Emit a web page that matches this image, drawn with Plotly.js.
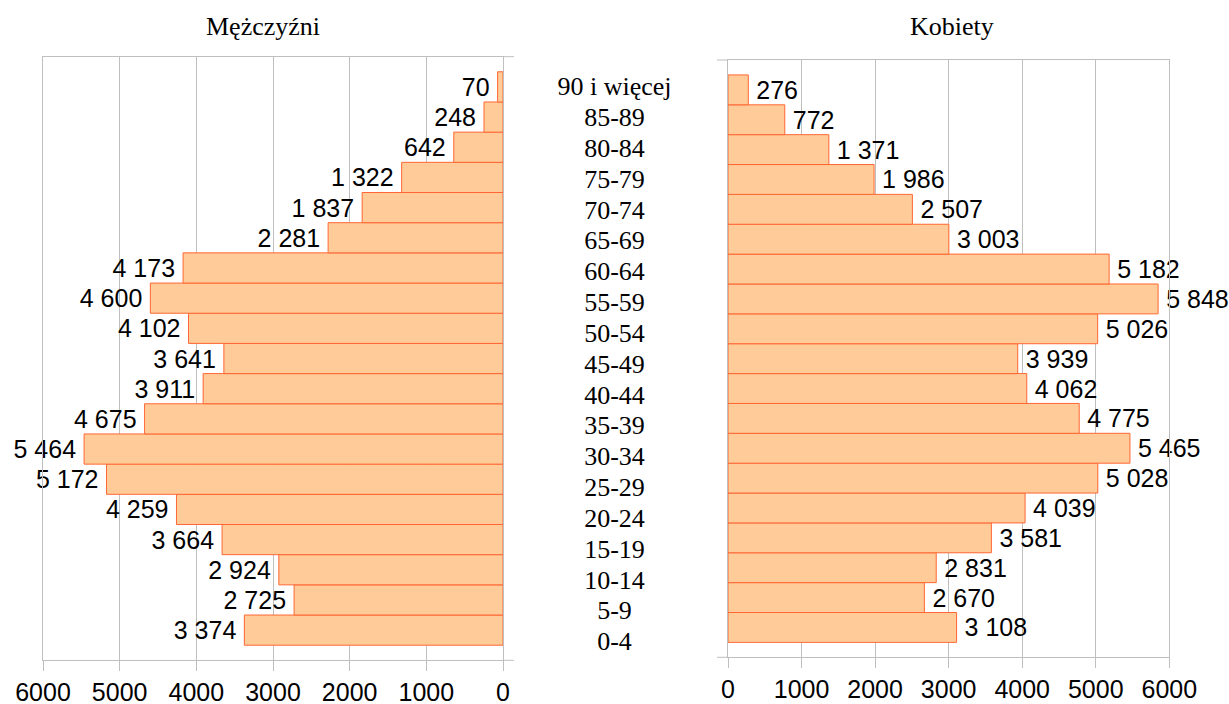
<!DOCTYPE html>
<html>
<head>
<meta charset="utf-8">
<script src="https://cdn.plot.ly/plotly-3.0.1.min.js"></script>
<style>html,body{margin:0;padding:0;background:#fff;}#chart{width:1229px;height:704px;}</style>
</head>
<body>
<div id="chart"></div>
<script>
const categories = ["0-4","5-9","10-14","15-19","20-24","25-29","30-34","35-39","40-44","45-49","50-54","55-59","60-64","65-69","70-74","75-79","80-84","85-89","90 i więcej"];
const men = [3374,2725,2924,3664,4259,5172,5464,4675,3911,3641,4102,4600,4173,2281,1837,1322,642,248,70];
const women = [3108,2670,2831,3581,4039,5028,5465,4775,4062,3939,5026,5848,5182,3003,2507,1986,1371,772,276];
const tickValues = [0,1000,2000,3000,4000,5000,6000];
const titleMen = "Mężczyźni";
const titleWomen = "Kobiety";

function fmt(v){ return String(v).replace(/\B(?=(\d{3})+(?!\d))/g, " "); }

const SANS = "Liberation Sans, Arial, sans-serif";
const SERIF = "Liberation Serif, Times New Roman, serif";
const GRID = "#bfbfbf";
const FILL = "#ffcc99";
const EDGE = "#ff6633";
const PAD = "\u2009";

const barCommon = {
  type: "bar", orientation: "h",
  marker: {color: FILL, line: {color: EDGE, width: 1}},
  textposition: "outside", cliponaxis: false, constraintext: "none",
  textfont: {family: SANS, size: 25, color: "#000"},
  hoverinfo: "none"
};

const traces = [
  Object.assign({}, barCommon, {x: men, y: categories, text: men.map(v => fmt(v) + PAD), xaxis: "x", yaxis: "y"}),
  Object.assign({}, barCommon, {x: women, y: categories, text: women.map(v => PAD + fmt(v)), xaxis: "x2", yaxis: "y2"}),
  {type: "scatter", mode: "text", x: categories.map(() => 0), y: categories, text: categories,
   textposition: "middle center", textfont: {family: SERIF, size: 26, color: "#000"},
   xaxis: "x3", yaxis: "y3", cliponaxis: false, hoverinfo: "none"}
];

function xAxis(domain, range, anchor){
  return {domain: domain, range: range, anchor: anchor, tickvals: tickValues, ticktext: tickValues.map(String),
    ticks: "outside", ticklen: 10, tickcolor: GRID, tickwidth: 1,
    showgrid: true, gridcolor: GRID, gridwidth: 1, zeroline: false,
    showline: true, mirror: true, linecolor: GRID, linewidth: 1,
    tickfont: {family: SANS, size: 25, color: "#000"}, fixedrange: true};
}
function yAxis(domain, anchor){
  return {domain: domain, anchor: anchor, type: "category", range: [-1, 19],
    showticklabels: false, ticks: "", showgrid: false, zeroline: false,
    showline: true, mirror: true, linecolor: GRID, linewidth: 1, fixedrange: true};
}

const stub = (xref, yref, x0, x1, y) => ({type: "line", xref: xref, yref: yref, x0: x0, x1: x1, y0: y, y1: y, line: {color: GRID, width: 1}});

const layout = {
  width: 1229, height: 704,
  margin: {l: 0, r: 0, t: 0, b: 0},
  paper_bgcolor: "#fff", plot_bgcolor: "#fff",
  showlegend: false, bargap: 0,
  xaxis: xAxis([43/1229, 503/1229], [6000, 0], "y"),
  yaxis: yAxis([(704-660.3)/704, (704-56.7)/704], "x"),
  xaxis2: xAxis([728/1229, 1169.3/1229], [0, 6000], "y2"),
  yaxis2: yAxis([(704-657.3)/704, (704-60)/704], "x2"),
  xaxis3: {domain: [0.46, 0.54], range: [-1, 1], visible: false, anchor: "y3", fixedrange: true},
  yaxis3: {domain: [(704-659.1)/704, (704-73.3)/704], range: [-0.5, 18.5], type: "category", visible: false, anchor: "x3", fixedrange: true},
  shapes: [
    stub("x domain", "y domain", 1, 1 + 11/460, 0),
    stub("x domain", "y domain", 1, 1 + 11/460, 1),
    stub("x2 domain", "y2 domain", -11/441.3, 0, 0),
    stub("x2 domain", "y2 domain", -11/441.3, 0, 1)
  ],
  annotations: [
    {text: titleMen, xref: "paper", yref: "paper", x: 262.5/1229, y: (704-27)/704, xanchor: "center", yanchor: "middle", showarrow: false, font: {family: SERIF, size: 26, color: "#000"}},
    {text: titleWomen, xref: "paper", yref: "paper", x: 951.5/1229, y: (704-27)/704, xanchor: "center", yanchor: "middle", showarrow: false, font: {family: SERIF, size: 26, color: "#000"}}
  ]
};

Plotly.newPlot("chart", traces, layout, {displayModeBar: false, staticPlot: true});
</script>
</body>
</html>
